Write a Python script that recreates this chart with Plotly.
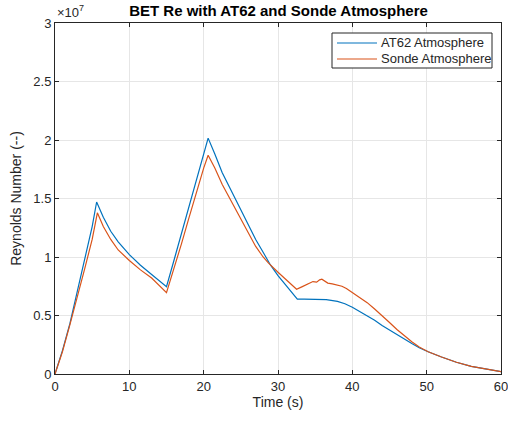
import plotly.graph_objects as go

# Reynolds number, in units of 1e7
T_AT62 = [0, 1, 2, 3, 4, 5, 5.6, 6.5, 7.5, 8.5, 10, 11.5, 13, 15,
          16, 17, 18, 19, 20, 20.6, 21.5, 22.5, 24, 25, 26, 27, 28, 29,
          30, 31, 32, 32.6, 33.5, 35, 36.5, 38, 39, 40, 41, 42, 43,
          44, 45, 46, 47, 48, 49, 50.2, 52, 54, 56, 58, 60]
RE_AT62 = [0, 0.2, 0.43, 0.7, 0.98, 1.26, 1.47, 1.34, 1.22, 1.13, 1.02, 0.93, 0.85, 0.747,
           0.97, 1.2, 1.42, 1.65, 1.88, 2.016, 1.88, 1.72, 1.53, 1.40, 1.27, 1.15, 1.04, 0.93,
           0.84, 0.76, 0.68, 0.64, 0.64, 0.64, 0.635, 0.62, 0.60, 0.57, 0.535, 0.50, 0.46,
           0.415, 0.375, 0.335, 0.295, 0.26, 0.225, 0.19, 0.145, 0.10, 0.065, 0.04, 0.02]

T_SONDE = [0, 1, 2, 3, 4, 5, 5.7, 6.5, 7.5, 8.5, 10, 11.5, 13, 15,
           16, 17, 18, 19, 20, 20.6, 21.5, 22.5, 24, 25, 26, 27, 28, 28.7,
           30, 31, 32.5, 33.2, 34, 34.7, 35.2, 35.6, 35.9, 36.3, 36.7, 37.3,
           37.9, 38.6, 39.2, 40, 41, 42, 43, 44, 45, 46, 47, 48, 49, 50.2,
           52, 54, 56, 58, 60]
RE_SONDE = [0, 0.19, 0.42, 0.65, 0.9, 1.15, 1.378, 1.26, 1.15, 1.06, 0.97, 0.89, 0.82, 0.696,
            0.9, 1.11, 1.33, 1.55, 1.76, 1.87, 1.76, 1.62, 1.44, 1.32, 1.2, 1.09, 1.0, 0.95,
            0.87, 0.81, 0.725, 0.745, 0.77, 0.79, 0.785, 0.805, 0.81, 0.795, 0.777, 0.77,
            0.76, 0.75, 0.73, 0.695, 0.655, 0.61, 0.555, 0.50, 0.44, 0.38, 0.325, 0.275, 0.23, 0.19,
            0.145, 0.10, 0.065, 0.04, 0.02]

SERIES_NAMES = ['AT62 Atmosphere', 'Sonde Atmosphere']
COLORS = ['#0072BD', '#D95319']

X_TICKS = [0, 10, 20, 30, 40, 50, 60]
Y_TICKS = [0, 0.5, 1, 1.5, 2, 2.5, 3]
Y_TICK_TEXT = ['0', '0.5', '1', '1.5', '2', '2.5', '3']

FONT = 'Liberation Sans, Arial, sans-serif'
TXT = '#262626'

# plot area in pixels (MATLAB-like axes box)
W, H = 508, 421
L, R, T, B = 55, 7, 23, 47
PW, PH = W - L - R, H - T - B


def px_x(x):
    return (x - L) / PW


def px_y(y):
    return (H - B - y) / PH


fig = go.Figure()
fig.add_trace(go.Scatter(x=T_AT62, y=RE_AT62, mode='lines', name=SERIES_NAMES[0],
                         line=dict(color=COLORS[0], width=1.2)))
fig.add_trace(go.Scatter(x=T_SONDE, y=RE_SONDE, mode='lines', name=SERIES_NAMES[1],
                         line=dict(color=COLORS[1], width=1.2)))

axis_style = dict(showline=True, linecolor=TXT, linewidth=1, mirror='ticks',
                  ticks='inside', ticklen=4, tickcolor=TXT,
                  showgrid=True, gridcolor='#e6e6e6', gridwidth=1, zeroline=False,
                  ticklabeloverflow='allow', automargin=False,
                  tickfont=dict(size=13, color=TXT, family=FONT))

fig.update_xaxes(range=[0, 60], tickvals=X_TICKS,
                 title=dict(text='Time (s)', font=dict(size=14, color=TXT, family=FONT), standoff=4),
                 **axis_style)
fig.update_yaxes(range=[0, 3], tickvals=Y_TICKS, ticktext=Y_TICK_TEXT,
                 title=dict(text='Reynolds Number (--)', font=dict(size=14, color=TXT, family=FONT), standoff=8),
                 **axis_style)

# exponent label above the y axis
fig.add_annotation(text='\u00d710', xref='paper', yref='paper', x=px_x(55), y=px_y(21.5),
                   xanchor='left', yanchor='bottom', showarrow=False,
                   font=dict(size=13, color=TXT, family=FONT))
fig.add_annotation(text='7', xref='paper', yref='paper', x=px_x(77), y=px_y(15),
                   xanchor='left', yanchor='bottom', showarrow=False,
                   font=dict(size=9, color=TXT, family=FONT))

# MATLAB-style legend box drawn by hand
fig.add_shape(type='rect', xref='paper', yref='paper',
              x0=px_x(332), x1=px_x(492), y0=px_y(68), y1=px_y(33),
              line=dict(color=TXT, width=1), fillcolor='white', layer='above')
for i, (name, col) in enumerate(zip(SERIES_NAMES, COLORS)):
    row_y = px_y(43 + 16 * i)
    fig.add_shape(type='line', xref='paper', yref='paper',
                  x0=px_x(337), x1=px_x(377), y0=row_y, y1=row_y,
                  line=dict(color=col, width=1.2), layer='above')
    fig.add_annotation(text=name, xref='paper', yref='paper', x=px_x(379), y=row_y,
                       xanchor='left', yanchor='middle', showarrow=False,
                       font=dict(size=13, color=TXT, family=FONT))

fig.update_layout(
    width=W, height=H,
    margin=dict(l=L, r=R, t=T, b=B, autoexpand=False),
    paper_bgcolor='white', plot_bgcolor='white',
    title=dict(text='<b>BET Re with AT62 and Sonde Atmosphere</b>', xref='container',
               x=278.5 / W, xanchor='center', y=1 - 11 / H, yanchor='middle',
               font=dict(size=15, color='black', family=FONT)),
    showlegend=False,
)

fig.write_html('out.html', config={'displayModeBar': False},
               post_script="document.body.style.margin='0';")
